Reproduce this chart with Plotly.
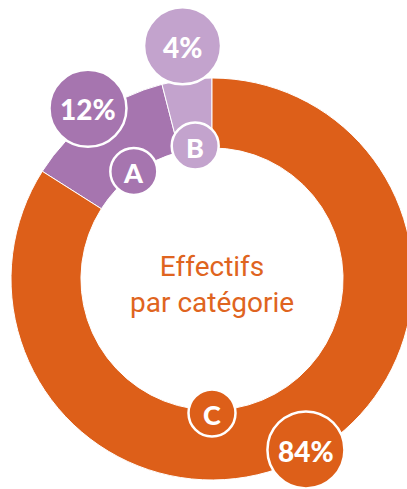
import math
import plotly.graph_objects as go

# ---- data ----
categories = ["A", "B", "C"]
values = [12, 4, 84]
pct_labels = ["12%", "4%", "84%"]
center_lines = ["Effectifs", "par catégorie"]

# ---- style / layout ----
W, H = 425, 489          # figure wider than window so the ring is cut at the right
CX, CY = 212, 279        # ring centre (px)
R_OUT = 201              # outer radius (px)
HOLE = 0.652
colors = {"A": "#A675AF", "B": "#C3A3CD", "C": "#DD5F19"}
text_color = "#DF6420"
label_r = {"A": 133, "B": 134, "C": 134}
bubble_r = {"A": 211, "B": 235, "C": 195}
label_angle_override = {"C": 180}
LABEL_SIZE = 23.5
BUBBLE_SIZE = 38.5

total = sum(values)
start = -(values[0] + values[1]) / total * 360.0   # A & B sit left of 12 o'clock

fig = go.Figure()
fig.add_trace(go.Pie(
    labels=categories, values=values, sort=False, direction="clockwise",
    rotation=start, hole=HOLE,
    marker=dict(colors=[colors[c] for c in categories], line=dict(color="white", width=1)),
    textinfo="none", hoverinfo="skip", showlegend=False,
    domain=dict(x=[(CX - R_OUT) / W, (CX + R_OUT) / W],
                y=[1 - (CY + R_OUT) / H, 1 - (CY - R_OUT) / H]),
))

def to_paper(px, py):
    return px / W, 1 - py / H

shapes, annots = [], []
cum = start
mids = {}
for c, v in zip(categories, values):
    ang = v / total * 360.0
    mids[c] = cum + ang / 2
    cum += ang

def circle(c, r_pos, ang, rad, text, size):
    a = math.radians(ang)
    px = CX + r_pos * math.sin(a)
    py = CY - r_pos * math.cos(a)
    x0, y0 = to_paper(px - rad, py + rad)
    x1, y1 = to_paper(px + rad, py - rad)
    shapes.append(dict(type="circle", xref="paper", yref="paper", x0=x0, y0=y0, x1=x1, y1=y1,
                       fillcolor=colors[c], line=dict(color="white", width=2.5), layer="above"))
    xp, yp = to_paper(px, py + 1)
    annots.append(dict(x=xp, y=yp, xref="paper", yref="paper", text=text,
                       showarrow=False, xanchor="center", yanchor="middle",
                       font=dict(family="Lato, Open Sans, sans-serif", size=size,
                                 color="white", weight=900)))

for c, p in zip(categories, pct_labels):
    circle(c, bubble_r[c], mids[c], BUBBLE_SIZE, p, 28)
    circle(c, label_r[c], label_angle_override.get(c, mids[c]), LABEL_SIZE, c, 27)

xp, yp = to_paper(CX, 284)
annots.append(dict(x=xp, y=yp, xref="paper", yref="paper", text="<br>".join(center_lines),
                   showarrow=False, xanchor="center", yanchor="middle", align="center",
                   font=dict(family="Roboto, sans-serif", size=28, color=text_color)))

fig.update_layout(width=W, height=H, margin=dict(l=0, r=0, t=0, b=0),
                  paper_bgcolor="white", plot_bgcolor="white",
                  shapes=shapes, annotations=annots)
fig.write_html("out.html", config={"displayModeBar": False},
               post_script="document.body.style.margin='0';document.body.style.overflow='hidden';")
